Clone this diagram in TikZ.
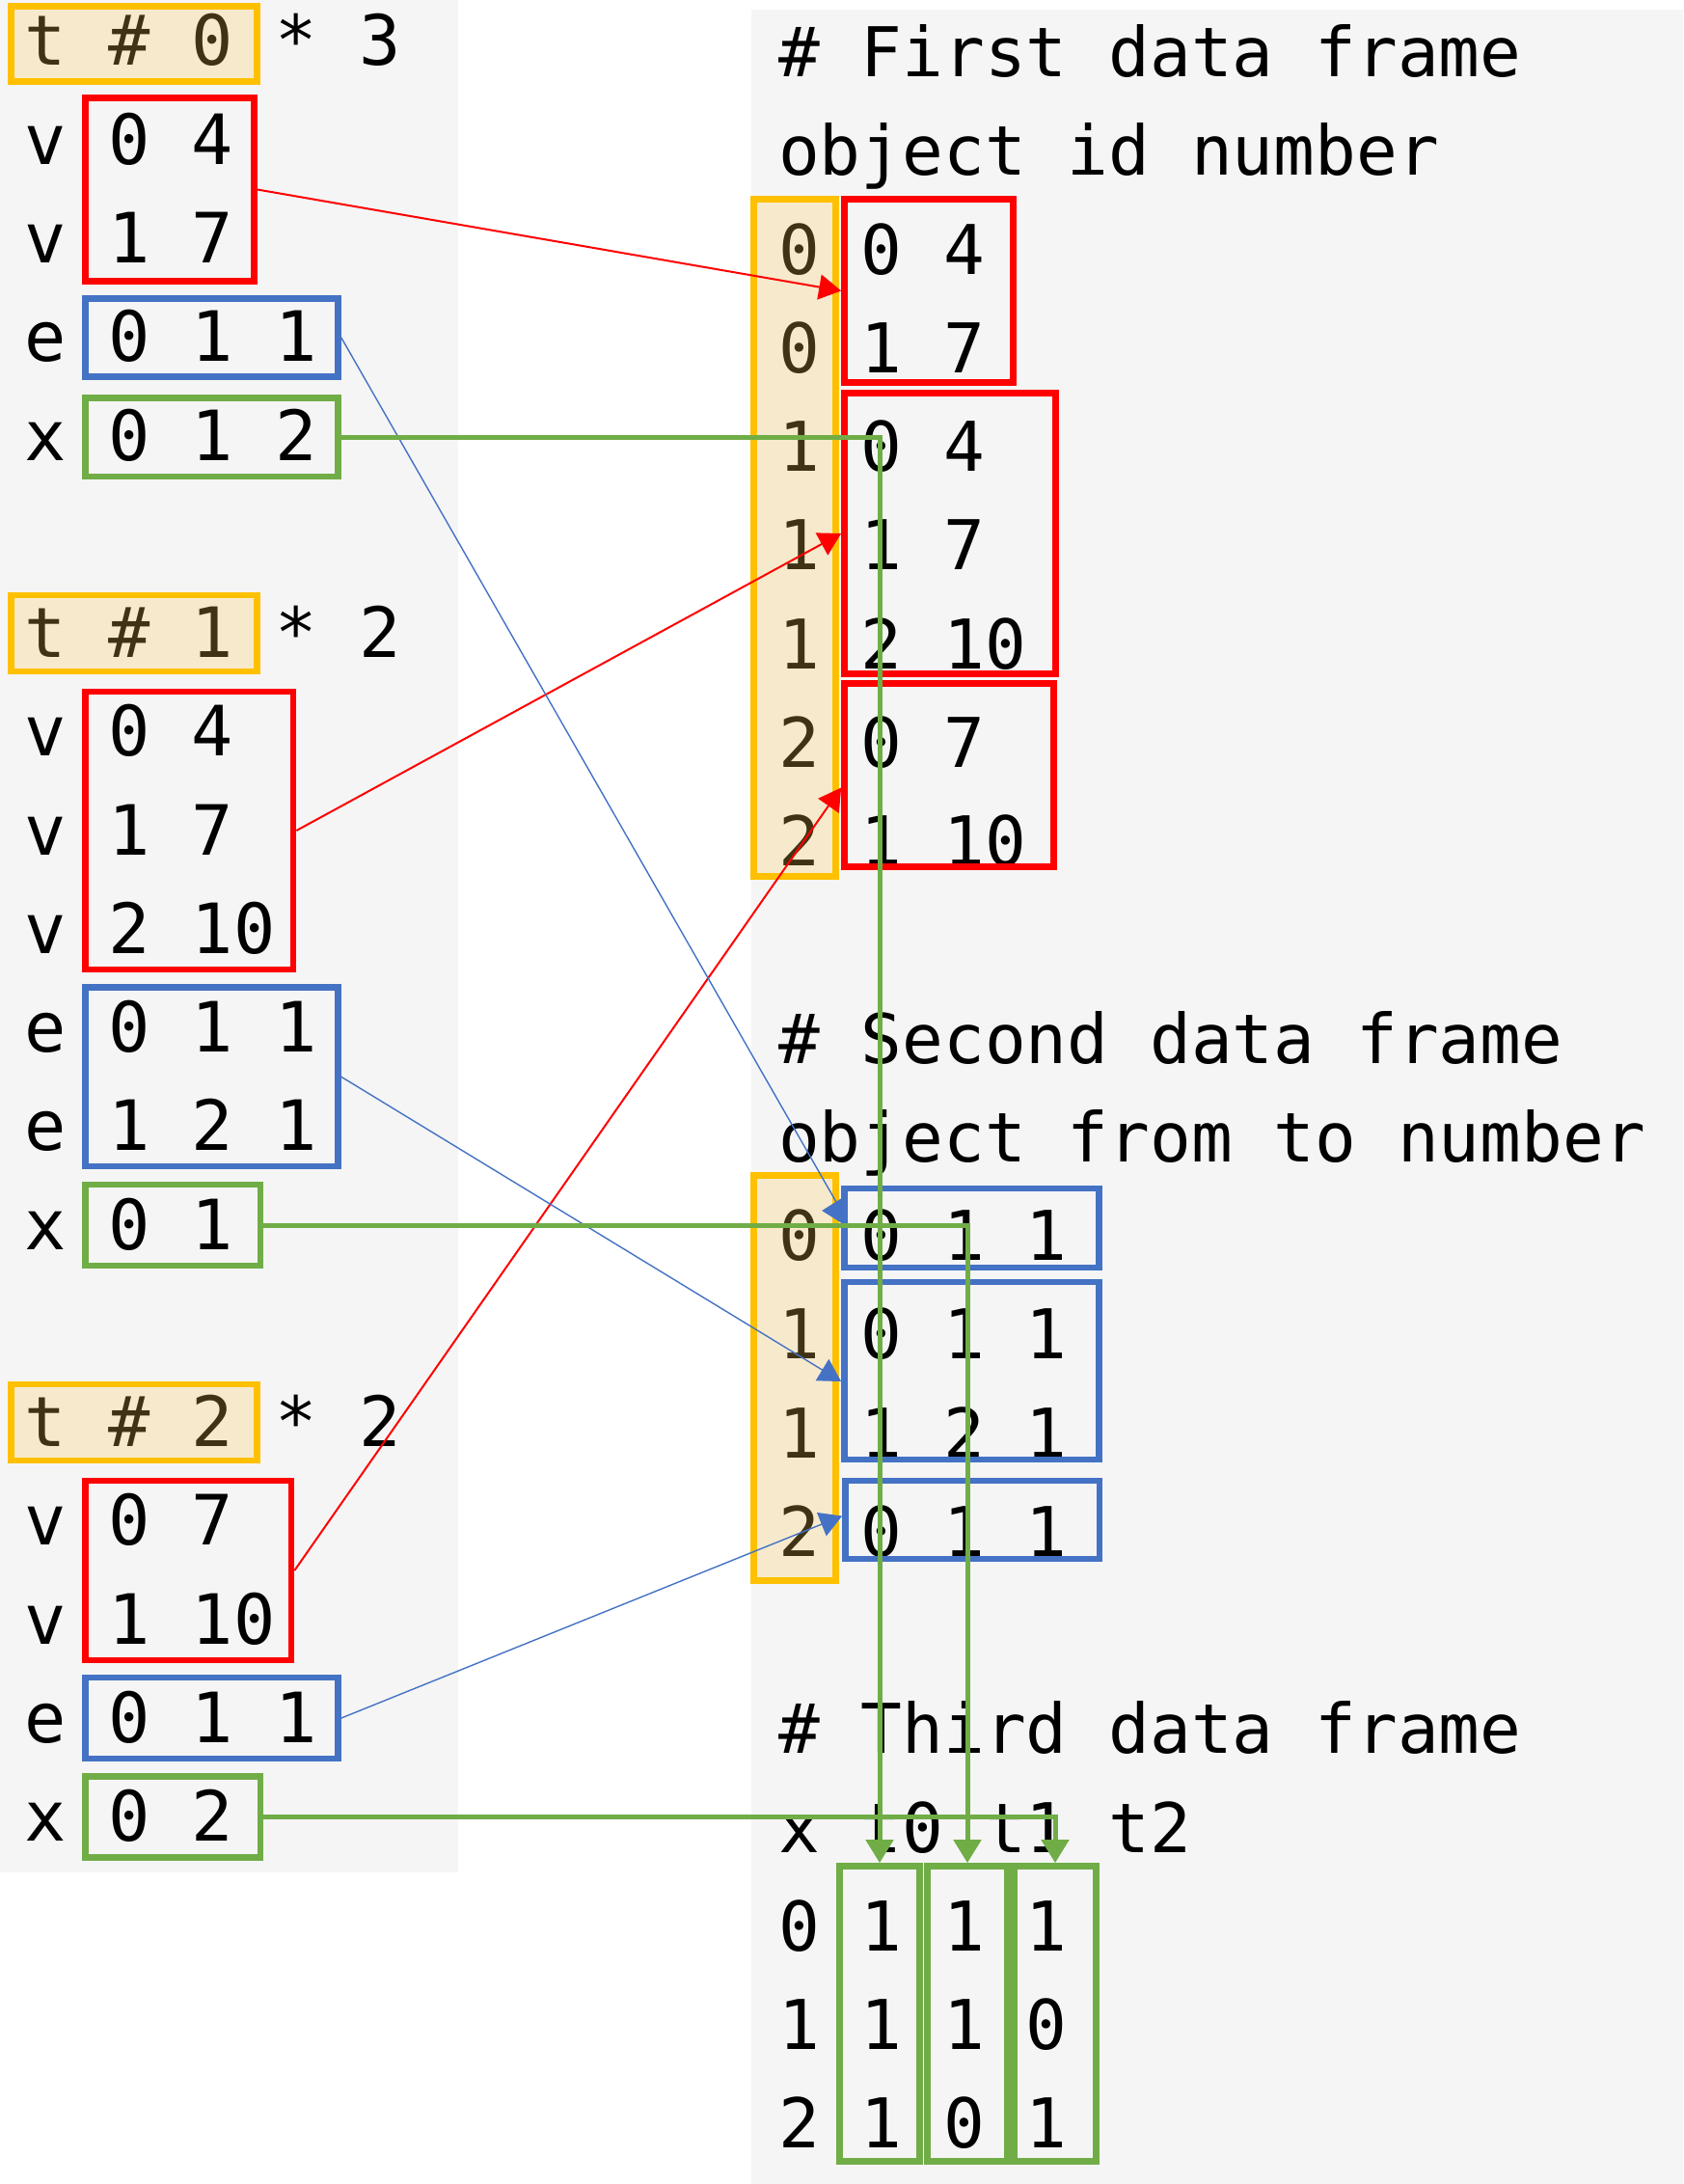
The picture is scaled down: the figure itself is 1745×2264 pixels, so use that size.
\documentclass[tikz,border=0pt]{standalone}
\usepackage{fontspec}
\newfontfamily\codefont{DejaVu Sans Mono}
\usetikzlibrary{arrows.meta,fit}
\definecolor{bgpanel}{HTML}{F5F5F5}
\definecolor{ored}{HTML}{FF0000}
\definecolor{oblue}{HTML}{4472C4}
\definecolor{ogreen}{HTML}{70AD47}
\definecolor{ogold}{HTML}{FFC000}
\definecolor{ogoldfill}{RGB}{255,205,85}
\tikzset{
  boxbase/.style={rectangle, inner sep=0pt, line width=3.35pt},
  redbox/.style={boxbase, draw=ored},
  bluebox/.style={boxbase, draw=oblue},
  greenbox/.style={boxbase, draw=ogreen},
  goldbox/.style={boxbase, draw=ogold, fill=ogoldfill, fill opacity=0.25},
  ltext/.style={anchor=base west, inner sep=0pt, text=black, font=\codefont\fontsize{35.95pt}{40pt}\selectfont},
  rtext/.style={anchor=base west, inner sep=0pt, text=black, font=\codefont\fontsize{35.55pt}{40pt}\selectfont},
  redarrow/.style={draw=ored, line width=1pt, -{Triangle[length=11.5pt,width=13pt]}},
  bluearrow/.style={draw=oblue, line width=0.7pt, -{Triangle[length=11.5pt,width=13pt]}},
  greenarrow/.style={draw=ogreen, line width=2.5pt, -{Triangle[length=12pt,width=14pt]}},
}
\begin{document}
\begin{tikzpicture}[x=0.5pt, y=-0.5pt]
\useasboundingbox (0,0) rectangle (1745,2264);
% panels
\fill[bgpanel] (0,0) rectangle (475,1941);
\fill[bgpanel] (779,10) rectangle (1745,2264);

% ---------- left text ----------
\node[ltext] (L0)  at (25.4,68)      {t \# 0 * 3};
\node[ltext] (L1)  at (25.4,170.25)  {v 0 4};
\node[ltext] (L2)  at (25.4,272.5)   {v 1 7};
\node[ltext] (L3)  at (25.4,374.75)  {e 0 1 1};
\node[ltext] (L4)  at (25.4,477)     {x 0 1 2};
\node[ltext] (L6)  at (25.4,681.5)   {t \# 1 * 2};
\node[ltext] (L7)  at (25.4,783.75)  {v 0 4};
\node[ltext] (L8)  at (25.4,886)     {v 1 7};
\node[ltext] (L9)  at (25.4,988.25)  {v 2 10};
\node[ltext] (L10) at (25.4,1090.5)  {e 0 1 1};
\node[ltext] (L11) at (25.4,1192.75) {e 1 2 1};
\node[ltext] (L12) at (25.4,1295)    {x 0 1};
\node[ltext] (L14) at (25.4,1499.5)  {t \# 2 * 2};
\node[ltext] (L15) at (25.4,1601.75) {v 0 7};
\node[ltext] (L16) at (25.4,1704)    {v 1 10};
\node[ltext] (L17) at (25.4,1806.25) {e 0 1 1};
\node[ltext] (L18) at (25.4,1908.5)  {x 0 2};

% ---------- right text ----------
\node[rtext] (R0)  at (806.6,79.5)    {\# First data frame};
\node[rtext] (R1)  at (806.6,181.75)  {object id number};
\node[rtext] (R2)  at (806.6,284)     {0 0 4};
\node[rtext] (R3)  at (806.6,386.25)  {0 1 7};
\node[rtext] (R4)  at (806.6,488.5)   {1 0 4};
\node[rtext] (R5)  at (806.6,590.75)  {1 1 7};
\node[rtext] (R6)  at (806.6,693)     {1 2 10};
\node[rtext] (R7)  at (806.6,795.25)  {2 0 7};
\node[rtext] (R8)  at (806.6,897.5)   {2 1 10};
\node[rtext] (R10) at (806.6,1102)    {\# Second data frame};
\node[rtext] (R11) at (806.6,1204.25) {object from to number};
\node[rtext] (R12) at (806.6,1306.5)  {0 0 1 1};
\node[rtext] (R13) at (806.6,1408.75) {1 0 1 1};
\node[rtext] (R14) at (806.6,1511)    {1 1 2 1};
\node[rtext] (R15) at (806.6,1613.25) {2 0 1 1};
\node[rtext] (R17) at (806.6,1817.75) {\# Third data frame};
\node[rtext] (R18) at (806.6,1920)    {x t0 t1 t2};
\node[rtext] (R19) at (806.6,2022.25) {0 1 1 1};
\node[rtext] (R20) at (806.6,2124.5)  {1 1 1 0};
\node[rtext] (R21) at (806.6,2226.75) {2 1 0 1};

% ---------- left boxes ----------
\node[goldbox,  fit={(11.5,6.5) (266.5,84.5)}]     (tb0) {};
\node[redbox,   fit={(88.5,101.5) (263.5,291.5)}]  (red0) {};
\node[bluebox,  fit={(88.5,309.5) (350.5,390.5)}]  (blue0) {};
\node[greenbox, fit={(88.5,412.5) (350.5,494)}]    (green0) {};
\node[goldbox,  fit={(11.5,617) (266.5,696)}]      (tb1) {};
\node[redbox,   fit={(88.5,717) (304,1005)}]       (red1) {};
\node[bluebox,  fit={(88.5,1023.5) (350.5,1209)}]  (blue1) {};
\node[greenbox, fit={(88.5,1228) (270,1312)}]      (green1) {};
\node[goldbox,  fit={(11.5,1435) (266.5,1514)}]    (tb2) {};
\node[redbox,   fit={(88.5,1535) (302,1721)}]      (red2) {};
\node[bluebox,  fit={(88.5,1739) (350.5,1823)}]    (blue2) {};
\node[greenbox, fit={(88.5,1841.5) (270,1925.5)}]  (green2) {};

% ---------- right boxes ----------
\node[goldbox,  fit={(781.5,206.5) (866.5,908.5)}]   (oc1) {};
\node[redbox,   fit={(875.5,206.5) (1050.5,396.5)}]  (rb1) {};
\node[redbox,   fit={(875.5,407.5) (1094.5,698.5)}]  (rb2) {};
\node[redbox,   fit={(875.5,708.5) (1092.5,898.5)}]  (rb3) {};
\node[goldbox,  fit={(781.5,1218.5) (866.5,1638.5)}] (oc2) {};
\node[bluebox,  fit={(875.5,1232) (1139.5,1314)}]    (bb1) {};
\node[bluebox,  fit={(875.5,1329) (1139.5,1513)}]    (bb2) {};
\node[bluebox,  fit={(876.5,1535) (1140,1616)}]      (bb3) {};
\node[greenbox, fit={(870.5,1934.5) (953.5,2240.5)}] (gA) {};
\node[greenbox, fit={(961.5,1934.5) (1044.5,2240.5)}] (gB) {};
\node[greenbox, fit={(1051.5,1934.5) (1136.5,2240.5)}] (gC) {};

% ---------- connectors ----------
\draw[redarrow] (red0.east) -- (rb1.west);
\draw[redarrow] (red1.east) -- (rb2.west);
\draw[redarrow] (red2.east) -- ([yshift=-6.5pt]rb3.west);
\draw[draw=oblue, line width=0.7pt, -{Triangle[length=10pt,width=12.5pt]}]
  (blue0.east) -- ([yshift=9pt]bb1.west) -- ([xshift=-10pt,yshift=9pt]bb1.west);
\draw[bluearrow] (blue1.east) -- ([yshift=-5.5pt]bb2.west);
\draw[bluearrow] (blue2.east) -- ([yshift=2pt]bb3.west);
\draw[greenarrow] (green0.east) -| (gA.north);
\draw[greenarrow] (green1.east) -| (gB.north);
\draw[greenarrow] (green2.east) -| (gC.north);
\end{tikzpicture}
\end{document}
